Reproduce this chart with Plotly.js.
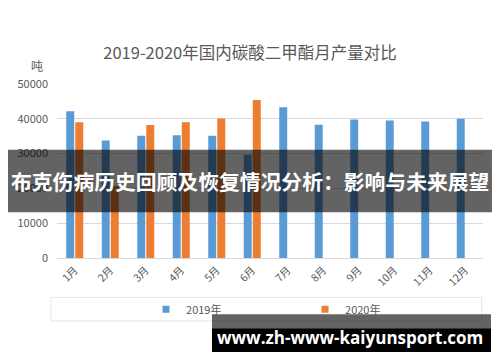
<!DOCTYPE html>
<html>
<head>
<meta charset="utf-8">
<script src="https://cdn.plot.ly/plotly-3.0.1.min.js"></script>
<style>html,body{margin:0;padding:0;background:#fff;}#chart{width:500px;height:362px;}</style>
</head>
<body>
<div id="chart"></div>
<script>
var months = ["1月","2月","3月","4月","5月","6月","7月","8月","9月","10月","11月","12月"];
var seriesNames = ["2019年","2020年"];
var values2019 = [42200, 33800, 35100, 35300, 35100, 29700, 43300, 38300, 39800, 39500, 39200, 40000];
var values2020 = [39000, 20700, 38200, 39000, 40100, 45400];
var chartTitle = "2019-2020年国内碳酸二甲酯月产量对比";
var unitLabel = "吨";
var overlayTitle = "布克伤病历史回顾及恢复情况分析：影响与未来展望";
var watermark = "www.zh-www-kaiyunsport.com";
var colors = ["#5b9bd5", "#ed7d31"];

var cjk = '"Noto Sans CJK SC", "Noto Sans", sans-serif';

var traces = [
  {type:"bar", x:months, y:values2019, name:seriesNames[0], marker:{color:colors[0]}, showlegend:false, hoverinfo:"skip"},
  {type:"bar", x:months.slice(0, values2020.length), y:values2020, name:seriesNames[1], marker:{color:colors[1]}, showlegend:false, hoverinfo:"skip"},
  {type:"scatter", mode:"markers", x:[null], y:[null], name:seriesNames[0], marker:{symbol:"square", size:7, color:colors[0]}},
  {type:"scatter", mode:"markers", x:[null], y:[null], name:seriesNames[1], marker:{symbol:"square", size:7, color:colors[1]}}
];

var layout = {
  width:500, height:362,
  margin:{l:57, r:17, t:84, b:103.5},
  paper_bgcolor:"#fff", plot_bgcolor:"#fff",
  font:{family:cjk, color:"#595959", size:11},
  title:{text:chartTitle, font:{family:cjk, size:16.5, color:"#595959"}, x:0.5, xanchor:"center", y:1-53/362, yanchor:"middle"},
  barmode:"group", bargap:0.49, bargroupgap:0.12,
  xaxis:{type:"category", tickangle:-45, tickfont:{size:10.5, color:"#595959"}, showgrid:false, zeroline:false, showline:false, ticks:"", ticklabelstandoff:3, fixedrange:true},
  yaxis:{range:[0,50000], tickvals:[0,10000,20000,30000,40000,50000], ticktext:["0","10000","20000","30000","40000","50000"], showgrid:true, gridcolor:"#d9d9d9", gridwidth:1, zeroline:true, zerolinecolor:"#d9d9d9", zerolinewidth:1, ticks:"", ticklabelstandoff:8, tickfont:{size:11, color:"#595959"}, fixedrange:true},
  legend:{orientation:"h", x:0.209, xanchor:"left", y:-0.295, yanchor:"middle", entrywidth:114, entrywidthmode:"pixels", font:{size:11, color:"#595959"}, bgcolor:"rgba(0,0,0,0)", itemclick:false, itemdoubleclick:false},
  shapes:[
    {type:"rect", xref:"paper", yref:"paper", x0:-0.0141, x1:0.997, y0:-0.2264, y1:-0.3622, line:{color:"#e6e6e6", width:1}, fillcolor:"rgba(0,0,0,0)", layer:"below"},
    {type:"rect", xref:"paper", yref:"paper", x0:-0.115, x1:1.021, y0:0.2625, y1:0.6218, line:{width:0}, fillcolor:"rgba(0,0,0,0.61)", layer:"above"},
    {type:"rect", xref:"paper", yref:"paper", x0:0.3638, x1:1.0188, y0:-0.3238, y1:-0.404, line:{width:0}, fillcolor:"rgba(0,0,0,0.61)", layer:"above"},
    {type:"rect", xref:"paper", yref:"paper", x0:0.3638, x1:1.0188, y0:-0.404, y1:-0.540, line:{width:0}, fillcolor:"#000", layer:"above"}
  ],
  annotations:[
    {text:unitLabel, xref:"paper", yref:"paper", x:(37-57)/426, y:(258.5-65)/174.5, showarrow:false, xanchor:"center", yanchor:"middle", font:{family:cjk, size:12, color:"#595959"}},
    {text:"<b>"+overlayTitle+"</b>", xref:"paper", yref:"paper", x:(250-57)/426, y:(258.5-181)/174.5, showarrow:false, xanchor:"center", yanchor:"middle", font:{family:cjk, size:20.8, color:"#fff"}},
    {text:"<b>"+watermark+"</b>", xref:"paper", yref:"paper", x:(350-57)/426, y:(258.5-338)/174.5, showarrow:false, xanchor:"center", yanchor:"middle", font:{family:'"Open Sans", "Noto Sans", sans-serif', size:17, color:"#fff"}}
  ]
};

Plotly.newPlot("chart", traces, layout, {displayModeBar:false, staticPlot:true});
</script>
</body>
</html>
